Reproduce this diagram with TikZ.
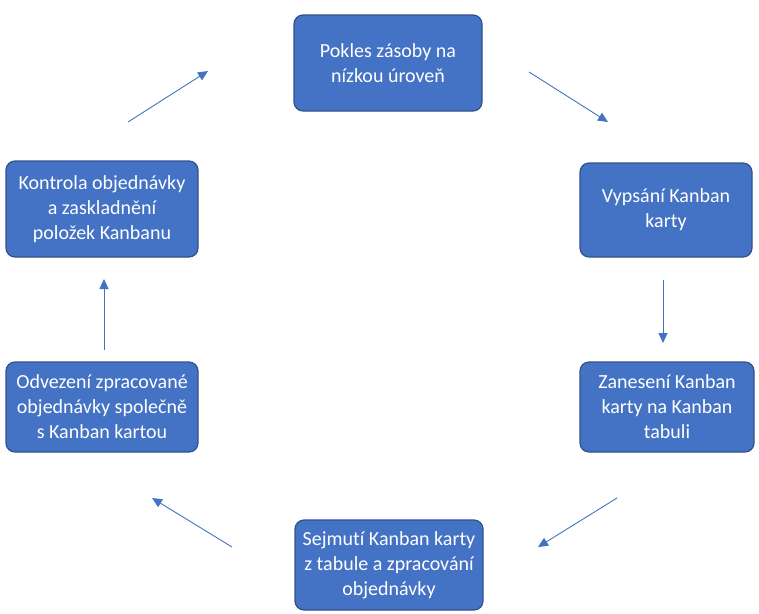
\documentclass[tikz,border=0pt]{standalone}
\usepackage{fontspec}
\setmainfont[Ligatures=NoCommon]{Carlito}
\usetikzlibrary{arrows.meta}
\definecolor{boxfill}{HTML}{4472C4}
\definecolor{boxline}{HTML}{2F528F}
\definecolor{arr}{HTML}{4472C4}
\begin{document}
\begin{tikzpicture}[x=1pt,y=-1pt,
  kbox/.style={draw=boxline,line width=1.2pt,fill=boxfill,rounded corners=9pt,
    text=white,align=center,font=\fontsize{20}{25}\selectfont,inner sep=0pt},
  flow/.style={draw=arr,line width=0.9pt,-{Triangle[length=10pt,width=9pt]}}]
\useasboundingbox (0,0) rectangle (759,613);
\node[kbox,minimum width=188,minimum height=96] (b1) at (388,63) {Pokles zásoby na\\nízkou úroveň};
\node[kbox,minimum width=172,minimum height=94] (b2) at (666,210) {Vypsání Kanban\\karty};
\node[kbox,minimum width=174,minimum height=90] (b3) at (667,407) {Zanesení Kanban\\karty na Kanban\\tabuli};
\node[kbox,minimum width=188,minimum height=90] (b4) at (389,565) {Sejmutí Kanban karty\\z tabule a zpracování\\objednávky};
\node[kbox,minimum width=192,minimum height=90] (b5) at (102,407) {Odvezení zpracované\\objednávky společně\\s Kanban kartou};
\node[kbox,minimum width=192,minimum height=96] (b6) at (102,209) {Kontrola objednávky\\a zaskladnění\\položek Kanbanu};
\coordinate (a1s) at (529,72);  \coordinate (a1e) at (608,122);
\coordinate (a2s) at (663,280); \coordinate (a2e) at (663,343);
\coordinate (a3s) at (617,498); \coordinate (a3e) at (538,547);
\coordinate (a4s) at (232,547); \coordinate (a4e) at (152,498);
\coordinate (a5s) at (104,350); \coordinate (a5e) at (104,279);
\coordinate (a6s) at (128,122); \coordinate (a6e) at (208,71);
\draw[flow] (a1s) -- (a1e);
\draw[flow] (a2s) -- (a2e);
\draw[flow] (a3s) -- (a3e);
\draw[flow] (a4s) -- (a4e);
\draw[flow] (a5s) -- (a5e);
\draw[flow] (a6s) -- (a6e);
\end{tikzpicture}
\end{document}
